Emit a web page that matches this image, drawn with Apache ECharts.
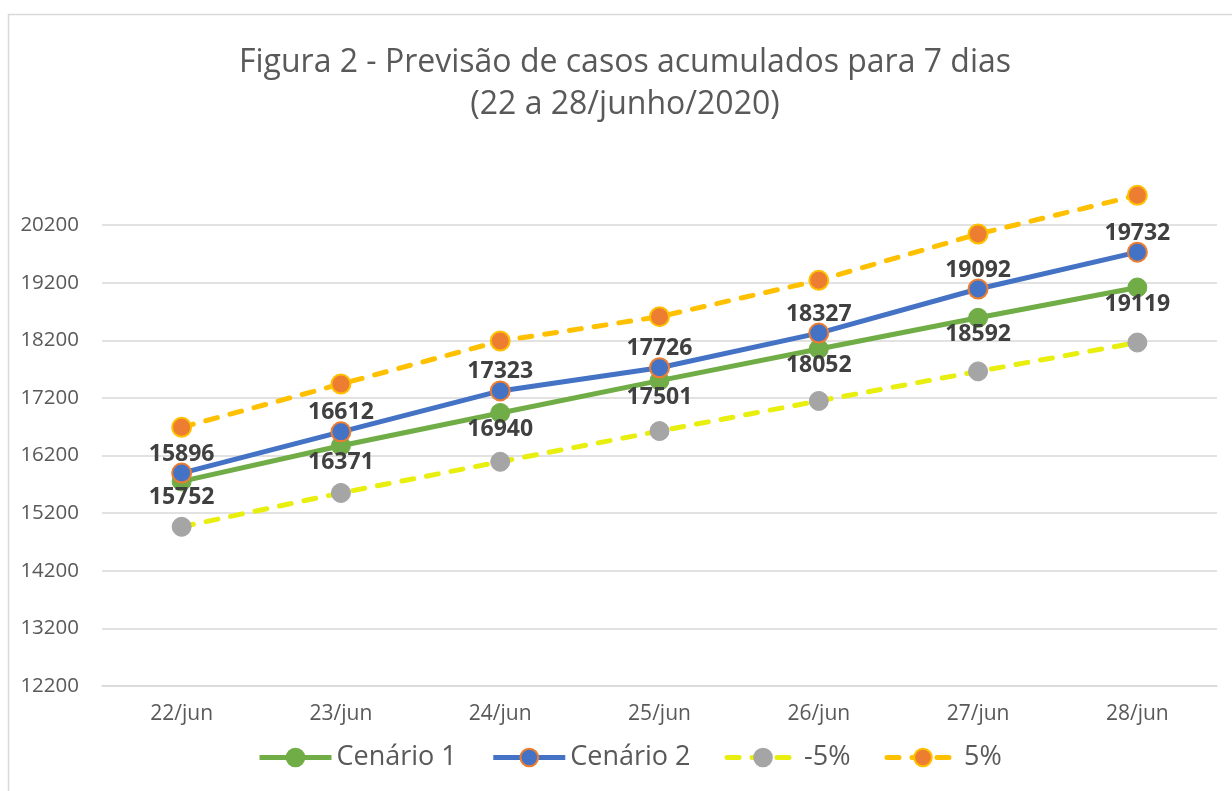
<!DOCTYPE html>
<html>
<head>
<meta charset="utf-8">
<script src="https://cdn.jsdelivr.net/npm/echarts@6/dist/echarts.min.js"></script>
<style>
html,body{margin:0;padding:0;background:#fff;}
#chart{width:1232px;height:791px;}
</style>
</head>
<body>
<div id="chart"></div>
<script>
var categories = ['22/jun','23/jun','24/jun','25/jun','26/jun','27/jun','28/jun'];
var cenario1 = [15752, 16371, 16940, 17501, 18052, 18592, 19119];
var cenario2 = [15896, 16612, 17323, 17726, 18327, 19092, 19732];
var menos5 = [14964, 15552, 16093, 16626, 17149, 17662, 18163];
var mais5 = [16691, 17443, 18189, 18612, 19243, 20047, 20719];
var yMin = 12200, yMax = 21200, yStep = 1000;

var FONT = 'Open Sans';
var chart = echarts.init(document.getElementById('chart'), null, {renderer:'canvas'});

var gridColors = [];
for (var v = yMin; v < yMax; v += yStep) gridColors.push('#D9D9D9');
gridColors.push('rgba(0,0,0,0)');

var labelStyle = {fontFamily: FONT, fontSize: 23, fontWeight: 'bold', color: '#404040'};

chart.setOption({
  animation: false,
  backgroundColor: '#fff',
  graphic: [{
    type: 'rect', silent: true,
    shape: {x: 8.5, y: 14.5, width: 1400, height: 1000},
    style: {fill: 'none', stroke: '#D9D9D9', lineWidth: 1.5}
  }],
  title: {
    text: 'Figura 2 - Previsão de casos acumulados para 7 dias\n(22 a 28/junho/2020)',
    left: 620, top: 37, textAlign: 'center',
    textStyle: {fontFamily: FONT, fontSize: 32, fontWeight: 'normal', color: '#595959', lineHeight: 42}
  },
  legend: {
    top: 739, left: 252,
    itemWidth: 72, itemHeight: 22, itemGap: 34,
    lineStyle: {width: 5},
    textStyle: {fontFamily: FONT, fontSize: 27, color: '#595959'},
    data: ['Cenário 1','Cenário 2','-5%','5%']
  },
  grid: {left: 102, right: 15, top: 167.6, bottom: 105},
  xAxis: {
    type: 'category', data: categories, boundaryGap: true,
    axisLine: {show: true, lineStyle: {color: '#D9D9D9', width: 1.5}},
    axisTick: {show: false},
    axisLabel: {fontFamily: FONT, fontSize: 21, color: '#595959', margin: 18}
  },
  yAxis: {
    type: 'value', min: yMin, max: yMax, interval: yStep,
    axisLine: {show: false}, axisTick: {show: false},
    axisLabel: {fontFamily: FONT, fontSize: 20.5, color: '#595959', margin: 23, showMaxLabel: false,
      formatter: function(v){ return v >= yMax ? '' : String(v); }},
    splitLine: {show: true, lineStyle: {color: gridColors, width: 1.5}}
  },
  series: [
    {
      name: 'Cenário 1', type: 'line', data: cenario1,
      symbol: 'circle', symbolSize: 19,
      lineStyle: {color: '#70AD47', width: 5},
      itemStyle: {color: '#70AD47', borderColor: '#70AD47', borderWidth: 1},
      label: Object.assign({show: true, position: 'bottom', distance: -5}, labelStyle),
      z: 3
    },
    {
      name: 'Cenário 2', type: 'line', data: cenario2,
      symbol: 'circle', symbolSize: 19,
      lineStyle: {color: '#4472C4', width: 5},
      itemStyle: {color: '#4472C4', borderColor: '#ED7D31', borderWidth: 2},
      label: Object.assign({show: true, position: 'top', distance: -3}, labelStyle),
      z: 4
    },
    {
      name: '-5%', type: 'line', data: menos5,
      symbol: 'circle', symbolSize: 19,
      lineStyle: {color: '#E8EE0E', width: 5, type: [12, 13], cap: 'round'},
      itemStyle: {color: '#A5A5A5', borderColor: '#A5A5A5', borderWidth: 1},
      z: 2
    },
    {
      name: '5%', type: 'line', data: mais5,
      symbol: 'circle', symbolSize: 19,
      lineStyle: {color: '#FFC000', width: 5, type: [12, 13], cap: 'round'},
      itemStyle: {color: '#ED7D31', borderColor: '#FFC000', borderWidth: 2},
      z: 2
    }
  ]
});
</script>
</body>
</html>
